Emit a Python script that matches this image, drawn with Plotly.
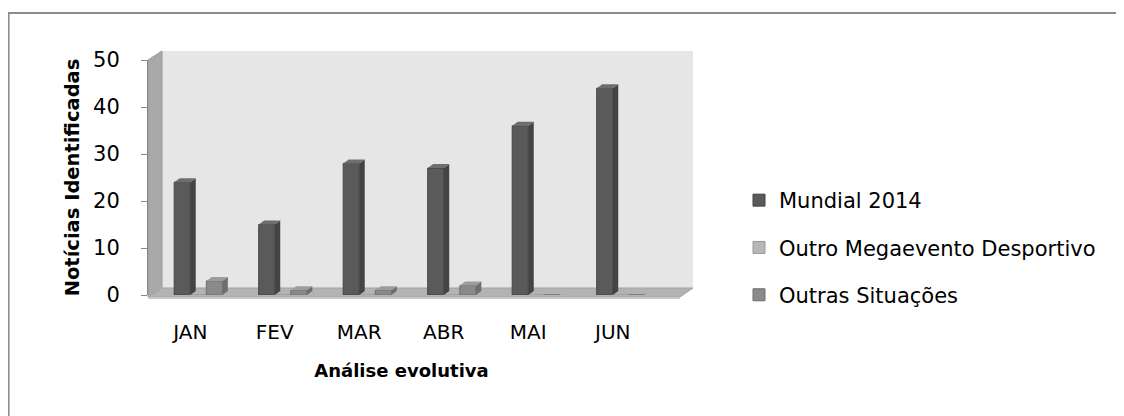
import plotly.graph_objects as go

months = ["JAN", "FEV", "MAR", "ABR", "MAI", "JUN"]
mundial_2014 = [24, 15, 28, 27, 36, 44]
outro_megaevento = [0, 0, 0, 0, 0, 0]
outras_situacoes = [3, 1, 1, 2, 0, 0]

series = [
    ("Mundial 2014", mundial_2014, "#5a5a5a", "#444444", "#6e6e6e"),
    ("Outro Megaevento Desportivo", outro_megaevento, "#b7b7b7", "#9a9a9a", "#c8c8c8"),
    ("Outras Situações", outras_situacoes, "#8a8a8a", "#6e6e6e", "#9c9c9c"),
]

FONT = "'DejaVu Sans', sans-serif"
W, H = 1124, 416
PAGE = 8  # page body margin, reference pixels are measured on screen
L, T, PW, PH = 148 - PAGE, 60 - PAGE, 507, 235
BAR_W = 0.19
DX, DY = 0.065, 0.85  # 3d depth offset in data units


def paper(px, py):
    """Screen pixel -> paper coordinates."""
    return (px - PAGE - L) / PW, (T + PH - (py - PAGE)) / PH


def poly(points, close=True):
    pts = [paper(x, y) for x, y in points]
    return "M " + " L ".join(f"{x:.4f},{y:.4f}" for x, y in pts) + (" Z" if close else "")


fig = go.Figure()

for i, (name, values, color, side, top) in enumerate(series):
    offset = -BAR_W + i * BAR_W
    fig.add_trace(
        go.Bar(
            name=name,
            x=months,
            y=values,
            width=BAR_W,
            offset=offset,
            marker=dict(color=color, line=dict(color=side, width=1)),
            legendgroup=name,
        )
    )
    # pseudo 3d faces for each bar, derived from the data values
    for j, v in enumerate(values):
        if v <= 0:
            continue
        x0 = j + offset
        x1 = x0 + BAR_W
        fig.add_shape(
            type="path",
            xref="x", yref="y",
            path=f"M {x1},0 L {x1 + DX},{DY} L {x1 + DX},{v + DY} L {x1},{v} Z",
            fillcolor=side, line=dict(width=0), layer="above",
        )
        fig.add_shape(
            type="path",
            xref="x", yref="y",
            path=f"M {x0},{v} L {x1},{v} L {x1 + DX},{v + DY} L {x0 + DX},{v + DY} Z",
            fillcolor=top, line=dict(width=0), layer="above",
        )

# walls and floor of the 3d box
fig.add_shape(type="path", xref="paper", yref="paper", layer="below",
              path=poly([(162, 51), (693, 51), (693, 289), (162, 289)]),
              fillcolor="#e6e6e6", line=dict(width=0))
fig.add_shape(type="path", xref="paper", yref="paper", layer="below",
              path=poly([(148, 60), (162, 51), (162, 289), (148, 297)]),
              fillcolor="#a9a9a9", line=dict(color="#9a9a9a", width=1))
fig.add_shape(type="path", xref="paper", yref="paper", layer="below",
              path=poly([(148, 297), (162, 288), (693, 288), (680, 297)]),
              fillcolor="#b3b3b3", line=dict(color="#a3a3a3", width=1))
fig.add_shape(type="path", xref="paper", yref="paper", layer="below",
              path=poly([(148, 297), (680, 297), (680, 299), (148, 299)]),
              fillcolor="#c8c8c8", line=dict(width=0))
# outer chart border (cropped at the right and bottom)
fig.add_shape(type="path", xref="paper", yref="paper", layer="below",
              path=poly([(8.6, 440), (8.6, 13), (1140, 13)], close=False),
              line=dict(color="#8c8c8c", width=2))

fig.update_layout(
    width=W,
    height=H,
    margin=dict(l=L, r=W - L - PW, t=T, b=H - T - PH, autoexpand=False),
    paper_bgcolor="white",
    plot_bgcolor="rgba(0,0,0,0)",
    barmode="overlay",
    font=dict(family=FONT, size=20, color="black"),
    showlegend=True,
    legend=dict(
        x=paper(739, 0)[0], y=paper(0, 180)[1],
        xanchor="left", yanchor="top",
        font=dict(size=21),
        tracegroupgap=17,
        bgcolor="rgba(0,0,0,0)",
    ),
    xaxis=dict(
        range=[-0.5, 5.5],
        showgrid=False,
        showline=False,
        ticks="",
        ticklabelstandoff=23,
        tickfont=dict(size=20),
        title=dict(text="<b>Análise evolutiva</b>", font=dict(size=18), standoff=21),
        fixedrange=True,
    ),
    yaxis=dict(
        range=[0, 50],
        dtick=10,
        showgrid=False,
        showline=True,
        linecolor="#868686",
        linewidth=1,
        ticks="outside",
        ticklen=6,
        tickcolor="#868686",
        ticklabelstandoff=17,
        tickfont=dict(size=21),
        title=dict(text="<b>Notícias Identificadas</b>", font=dict(size=19.5), standoff=8),
        zeroline=False,
        fixedrange=True,
    ),
)

fig.write_html("out.html")
